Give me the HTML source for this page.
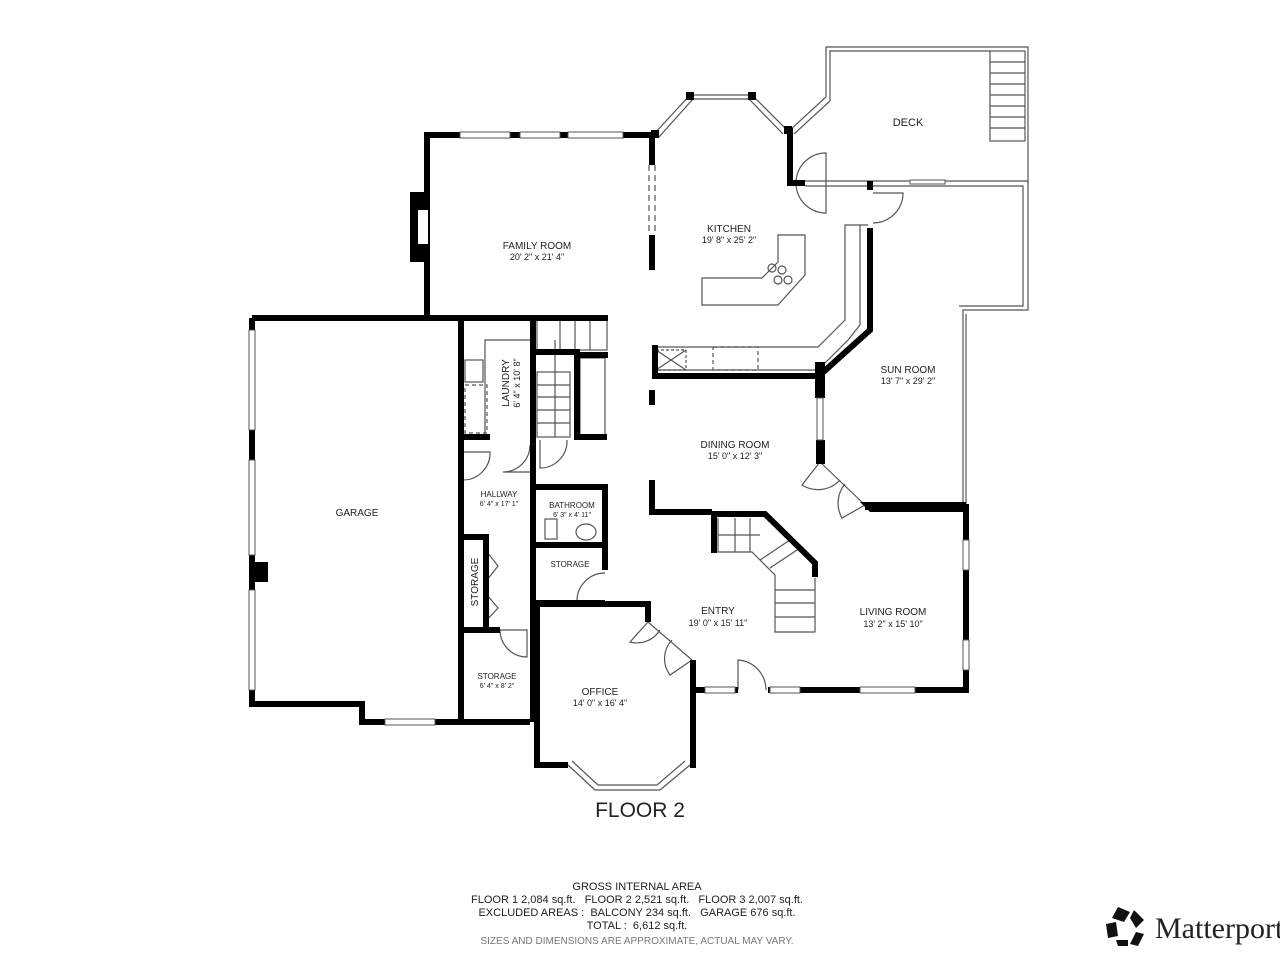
<!DOCTYPE html>
<html><head><meta charset="utf-8"><style>
html,body{margin:0;padding:0;background:#fff;}
svg{display:block}
text{font-family:"Liberation Sans",sans-serif;fill:#222;white-space:pre}
</style></head><body>
<svg width="1280" height="960" viewBox="0 0 1280 960" xmlns="http://www.w3.org/2000/svg">
<rect width="1280" height="960" fill="#fff"/>
<g fill="none" stroke="#555" stroke-width="1.2">
<polyline points="790,130 826,97 826,47 1028,47 1028,183"/>
<polyline points="794,134 830,101 830,51 990,51"/>
<rect x="990" y="51" width="35" height="90"/>
<line x1="990" y1="62" x2="1025" y2="62"/><line x1="990" y1="73" x2="1025" y2="73"/><line x1="990" y1="84" x2="1025" y2="84"/><line x1="990" y1="95" x2="1025" y2="95"/><line x1="990" y1="106" x2="1025" y2="106"/><line x1="990" y1="117" x2="1025" y2="117"/><line x1="990" y1="128" x2="1025" y2="128"/>
<polyline points="805,181 1028,181 1028,310 963,310 963,505"/>
<polyline points="805,186 1023,186 1023,306 959,306"/>
<line x1="966" y1="314" x2="966" y2="505"/>
<polyline points="655,133 690,95 752,95 787,130"/>
<polyline points="659,137 693,99 749,99 783,134"/>
<polyline points="568,765 595,790 660,790 690,765"/>
<polyline points="572,761 598,785 657,785 685,761"/>
<polygon points="702,278 762,278 778,262 778,235 805,235 805,275 778,305 702,305"/>
<polyline points="655,347 818,347 845,320 845,225 868,225"/>
<polyline points="655,370 818,370 848,340 860,325 860,225"/>
<rect x="537" y="318" width="70" height="32"/>
<polyline points="560,318 560,350"/><polyline points="575,318 575,350"/><polyline points="590,318 590,350"/>
<rect x="537" y="372" width="33" height="65"/>
<line x1="537" y1="385" x2="570" y2="385"/><line x1="537" y1="397" x2="570" y2="397"/><line x1="537" y1="410" x2="570" y2="410"/><line x1="537" y1="423" x2="570" y2="423"/>
<line x1="555" y1="340" x2="555" y2="437"/>
<rect x="580" y="358" width="25" height="80"/>
<polyline points="718,518 718,552 752,552 775,575 775,632 815,632 815,578"/>
<line x1="718" y1="535" x2="760" y2="535"/><line x1="735" y1="518" x2="735" y2="552"/><line x1="750" y1="518" x2="750" y2="552"/>
<line x1="760" y1="560" x2="790" y2="540"/><line x1="770" y1="568" x2="800" y2="548"/>
<line x1="775" y1="590" x2="815" y2="590"/><line x1="775" y1="603" x2="815" y2="603"/><line x1="775" y1="617" x2="815" y2="617"/>
<polyline points="485,437 485,340 533,340"/>
<rect x="465" y="360" width="18" height="22"/>
<rect x="465" y="385" width="22" height="48" stroke-dasharray="4,3"/>
<rect x="656" y="350" width="30" height="20" stroke-dasharray="3,2"/>
<line x1="656" y1="350" x2="686" y2="370"/><line x1="686" y1="350" x2="656" y2="370"/>
<rect x="713" y="347" width="45" height="23" stroke-dasharray="4,3"/>
<circle cx="772" cy="268" r="4"/><circle cx="782" cy="270" r="4"/><circle cx="778" cy="280" r="4"/><circle cx="788" cy="280" r="4"/>
<rect x="545" y="519" width="12" height="20"/><ellipse cx="586" cy="532" rx="10" ry="8"/>
<polyline points="487,552 498,566 487,580"/><polyline points="487,595 498,608 487,620"/>
<line x1="649" y1="165" x2="649" y2="235" stroke-dasharray="6,4"/>
<line x1="655" y1="165" x2="655" y2="235" stroke-dasharray="6,4"/>
<path d="M826,153 A30,30 0 0 0 826,213 Z"/>
<path d="M873,193 L903,193 A30,30 0 0 1 873,223"/>
<path d="M463,452 L490,452 A27,27 0 0 1 463,480"/>
<path d="M530,445 A27,27 0 0 1 503,472 L530,472"/>
<path d="M540,440 L540,468 A27,27 0 0 0 567,440"/>
<path d="M605,573 A28,28 0 0 0 577,601 L605,601"/>
<path d="M500,630 L527,630 L527,657 A27,27 0 0 1 500,630"/>
<path d="M738,690 L738,660 A30,30 0 0 1 766,690"/>
<path d="M648,622 L630,642 A27,27 0 0 0 660,630"/>
<path d="M692,660 L670,675 A27,27 0 0 1 672,640"/>
<path d="M820,462 L802,485 A30,30 0 0 0 840,480"/>
<path d="M865,505 L842,518 A30,30 0 0 1 845,484"/>
<line x1="648" y1="622" x2="692" y2="660"/>
<line x1="820" y1="462" x2="865" y2="505"/>
</g>
<g fill="none" stroke="#000" stroke-width="6" stroke-linejoin="miter">
<polyline points="427,318 427,135 655,135"/>
<polyline points="652,135 652,165"/><polyline points="652,235 652,270"/>
<polyline points="790,128 790,183 805,183"/>
<polyline points="870,181 870,190"/><polyline points="870,228 870,330 820,375 820,395"/>
<polyline points="820,440 820,462"/>
<polyline points="865,507 966,507 966,690 768,690"/><polyline points="738,690 693,690"/>
<polyline points="652,376 820,376"/><polyline points="655,345 655,376"/>
<polyline points="652,390 652,405"/><polyline points="652,480 652,512 712,512"/>
<polyline points="714,512 714,553"/><polyline points="712,514 765,514 815,563 815,577"/>
<polyline points="252,318 608,318"/>
<polyline points="252,318 252,704 362,704 362,722 530,722"/>
<polyline points="461,318 461,722"/><polyline points="533,318 533,722"/>
<polyline points="461,437 490,437"/>
<polyline points="535,352 580,352"/><polyline points="580,355 608,355"/><polyline points="577,355 577,437 607,437"/>
<polyline points="535,487 605,487 605,545 535,545"/><polyline points="605,545 605,570"/>
<polyline points="535,603 605,603"/>
<polyline points="463,537 486,537 486,628"/>
<polyline points="463,630 500,630"/>
<polyline points="537,604 537,765 568,765"/><polyline points="535,604 648,604 648,622"/>
<polyline points="693,660 693,765 690,765"/>
</g>
<g fill="#000">
<rect x="686" y="92" width="8" height="8"/><rect x="748" y="92" width="8" height="8"/>
<rect x="651" y="130" width="8" height="8"/><rect x="784" y="126" width="8" height="8"/>
<rect x="410" y="192" width="18" height="70"/>
<rect x="250" y="562" width="18" height="20"/>
<rect x="815" y="362" width="10" height="36"/>
<rect x="816" y="440" width="9" height="24"/>
<polygon points="860,502 870,512 966,512 966,502"/>
</g>
<rect x="418" y="210" width="10" height="34" fill="#fff"/>
<g fill="#fff" stroke="#555" stroke-width="1">
<rect x="460" y="132" width="50" height="6"/><rect x="520" y="132" width="40" height="6"/><rect x="568" y="132" width="55" height="6"/>
<rect x="249" y="330" width="6" height="100"/><rect x="249" y="460" width="6" height="95"/><rect x="249" y="590" width="6" height="100"/>
<rect x="385" y="719" width="50" height="6"/>
<rect x="817" y="398" width="6" height="42"/>
<rect x="860" y="687" width="55" height="6"/><rect x="705" y="687" width="30" height="6"/><rect x="770" y="687" width="30" height="6"/>
<rect x="963" y="540" width="6" height="30"/><rect x="963" y="640" width="6" height="30"/>
<rect x="910" y="180" width="35" height="4"/>
</g>
<g text-anchor="middle" font-size="10">
<text x="908" y="126" font-size="11">DECK</text>
<text x="729" y="232">KITCHEN</text><text x="729" y="243" font-size="9">19' 8" x 25' 2"</text>
<text x="537" y="249">FAMILY ROOM</text><text x="537" y="260" font-size="9">20' 2" x 21' 4"</text>
<text x="357" y="516">GARAGE</text>
<text x="908" y="373">SUN ROOM</text><text x="908" y="384" font-size="9">13' 7" x 29' 2"</text>
<text x="735" y="448">DINING ROOM</text><text x="735" y="459" font-size="9">15' 0" x 12' 3"</text>
<text x="718" y="614">ENTRY</text><text x="718" y="626" font-size="9">19' 0" x 15' 11"</text>
<text x="893" y="615">LIVING ROOM</text><text x="893" y="627" font-size="9">13' 2" x 15' 10"</text>
<text x="600" y="695">OFFICE</text><text x="600" y="706" font-size="9">14' 0" x 16' 4"</text>
<text x="499" y="497" font-size="8">HALLWAY</text><text x="499" y="506" font-size="7">6' 4" x 17' 1"</text>
<text x="572" y="508" font-size="8">BATHROOM</text><text x="572" y="517" font-size="7">6' 3" x 4' 11"</text>
<text x="570" y="567" font-size="8">STORAGE</text>
<text x="497" y="679" font-size="8">STORAGE</text><text x="497" y="688" font-size="7">6' 4" x 8' 2"</text>
<text transform="translate(478,582) rotate(-90)" font-size="10">STORAGE</text>
<text transform="translate(509,383) rotate(-90)" font-size="10">LAUNDRY</text>
<text transform="translate(520,383) rotate(-90)" font-size="9">6' 4" x 10' 8"</text>
<text x="640" y="817" font-size="21" fill="#111">FLOOR 2</text>
<text x="637" y="890" font-size="11">GROSS INTERNAL AREA</text>
<text x="637" y="903" font-size="11">FLOOR 1 2,084 sq.ft.   FLOOR 2 2,521 sq.ft.   FLOOR 3 2,007 sq.ft.</text>
<text x="637" y="916" font-size="11">EXCLUDED AREAS :  BALCONY 234 sq.ft.   GARAGE 676 sq.ft.</text>
<text x="637" y="929" font-size="11">TOTAL :  6,612 sq.ft.</text>
<text x="637" y="944" font-size="10" style="fill:#777">SIZES AND DIMENSIONS ARE APPROXIMATE, ACTUAL MAY VARY.</text>
</g>
<g fill="#111">
<polygon points="1118,907 1130,912 1124,922 1112,918"/>
<polygon points="1134,910 1144,920 1136,928 1130,918"/>
<polygon points="1106,924 1116,922 1118,936 1108,938"/>
<polygon points="1136,932 1144,934 1138,946 1130,944"/>
<polygon points="1116,940 1128,940 1128,946 1118,946"/>
</g>
<text x="1155" y="938" font-size="30" style="font-family:'Liberation Serif',serif" fill="#111">Matterport</text>
</svg>
</body></html>
